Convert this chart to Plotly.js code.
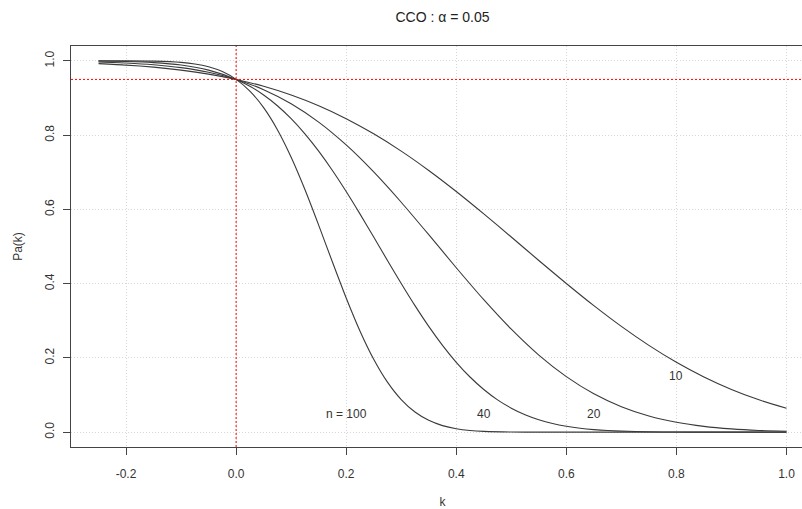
<!DOCTYPE html>
<html><head><meta charset="utf-8">
<script src="https://cdn.plot.ly/plotly-3.0.1.min.js"></script>
<style>html,body{margin:0;padding:0;overflow:hidden;background:#fff}#chart{width:815px;height:509px}</style>
</head><body><div id="chart"></div>
<script>
// Data
const alpha = 0.05;
const k = [-0.25,-0.2,-0.15,-0.1,-0.05,0,0.05,0.1,0.15,0.2,0.25,0.3,0.35,0.4,0.45,0.5,0.55,0.6,0.65,0.7,0.75,0.8,0.85,0.9,0.95,1.0];
const pa10 = [0.9926,0.9886,0.9830,0.9751,0.9643,0.9500,0.9315,0.9080,0.8791,0.8443,0.8035,0.7569,0.7048,0.6481,0.5878,0.5255,0.4624,0.4004,0.3407,0.2848,0.2337,0.1881,0.1485,0.1149,0.0870,0.0646];
const pa20 = [0.9971,0.9944,0.9897,0.9818,0.9692,0.9500,0.9224,0.8845,0.8350,0.7735,0.7009,0.6192,0.5318,0.4428,0.3567,0.2773,0.2076,0.1496,0.1034,0.0687,0.0437,0.0266,0.0155,0.0087,0.0046,0.0023];
const k40 = [-0.25,-0.2,-0.15,-0.1,-0.05,0,0.025,0.05,0.075,0.1,0.125,0.15,0.175,0.2,0.225,0.25,0.275,0.3,0.325,0.35,0.375,0.4,0.425,0.45,0.475,0.5,0.525,0.55,0.575,0.6,0.625,0.65,0.675,0.7,0.75,0.8,0.85,0.9,0.95,1.0];
const pa40 = [0.9994,0.9982,0.9953,0.9886,0.9751,0.9500,0.9315,0.9080,0.8791,0.8443,0.8035,0.7569,0.7048,0.6481,0.5878,0.5255,0.4624,0.4004,0.3407,0.2848,0.2337,0.1881,0.1485,0.1149,0.0870,0.0646,0.0469,0.0334,0.0232,0.0158,0.0105,0.0068,0.0043,0.0027,0.0010,0.0003,0.0001,0,0,0];
const k100 = [-0.25,-0.2,-0.15,-0.1,-0.075,-0.05,-0.025,0,0.025,0.05,0.075,0.1,0.125,0.15,0.175,0.2,0.225,0.25,0.275,0.3,0.325,0.35,0.375,0.4,0.425,0.45,0.5,0.55,0.6,0.7,0.8,0.9,1.0];
const pa100 = [1.0000,0.9999,0.9992,0.9959,0.9917,0.9840,0.9710,0.9500,0.9185,0.8739,0.8146,0.7405,0.6536,0.5576,0.4582,0.3613,0.2726,0.1963,0.1346,0.0877,0.0542,0.0318,0.0176,0.0093,0.0046,0.0022,0.0004,0.0001,0,0,0,0,0];

const labelText = ['n = 100','40','20','10'];
const labelX = [0.2,0.45,0.65,0.8];
const labelY = [0.05,0.05,0.05,0.15];

const xTicks = [-0.2,0,0.2,0.4,0.6,0.8,1.0];
const xTickText = ['-0.2','0.0','0.2','0.4','0.6','0.8','1.0'];
const yTicks = [0,0.2,0.4,0.6,0.8,1.0];
const yTickText = ['0.0','0.2','0.4','0.6','0.8','1.0'];

const lineStyle = {color:'#3a3a3a', width:1.1, shape:'spline', smoothing:0.6};
const series = [[k,pa10],[k,pa20],[k40,pa40],[k100,pa100]];
const traces = series.map(s => ({x:s[0], y:s[1], type:'scatter', mode:'lines', line:lineStyle, hoverinfo:'skip'}));

const annotations = labelText.map((t,i) => ({x:labelX[i], y:labelY[i], xref:'x', yref:'y', text:t, showarrow:false,
  font:{size:12, color:'#333'}, xanchor:'center', yanchor:'middle'}));

const axisCommon = {ticks:'outside', ticklen:7, tickcolor:'#444', tickwidth:1, showline:true, linecolor:'#444', linewidth:1,
  mirror:true, showgrid:true, gridcolor:'#d6d6d6', griddash:'1px,2px', gridwidth:1, zeroline:false,
  tickfont:{size:12, color:'#333'}};

const refLine = {color:'rgb(255,0,0)', width:1, dash:'2px,2px'};

const layout = {
  width:815, height:509,
  margin:{l:71, r:1, t:46, b:62},
  paper_bgcolor:'#fff', plot_bgcolor:'#fff',
  font:{family:'Liberation Sans, Arial, sans-serif', size:12, color:'#333'},
  showlegend:false,
  title:{text:'CCO : α = 0.05', x:0.5, xref:'paper', xanchor:'center', y:1-17/509, yref:'container', yanchor:'middle',
    font:{size:14, color:'#222'}},
  xaxis:Object.assign({}, axisCommon, {range:[-0.3,1.05], tickmode:'array', tickvals:xTicks, ticktext:xTickText,
    ticklabelstandoff:9, title:{text:'k', standoff:18, font:{size:12, color:'#333'}}}),
  yaxis:Object.assign({}, axisCommon, {range:[-0.04,1.04], tickmode:'array', tickvals:yTicks, ticktext:yTickText,
    tickangle:-90, ticklabelstandoff:4, title:{text:'Pa(k)', standoff:18, font:{size:12, color:'#333'}}}),
  shapes:[
    {type:'line', layer:'above', xref:'x', yref:'paper', x0:0, x1:0, y0:0, y1:1, line:refLine},
    {type:'line', layer:'above', xref:'paper', yref:'y', x0:0, x1:1, y0:1-alpha, y1:1-alpha, line:refLine}
  ],
  annotations:annotations
};

Plotly.newPlot('chart', traces, layout, {staticPlot:true, displayModeBar:false});
</script>
</body></html>
